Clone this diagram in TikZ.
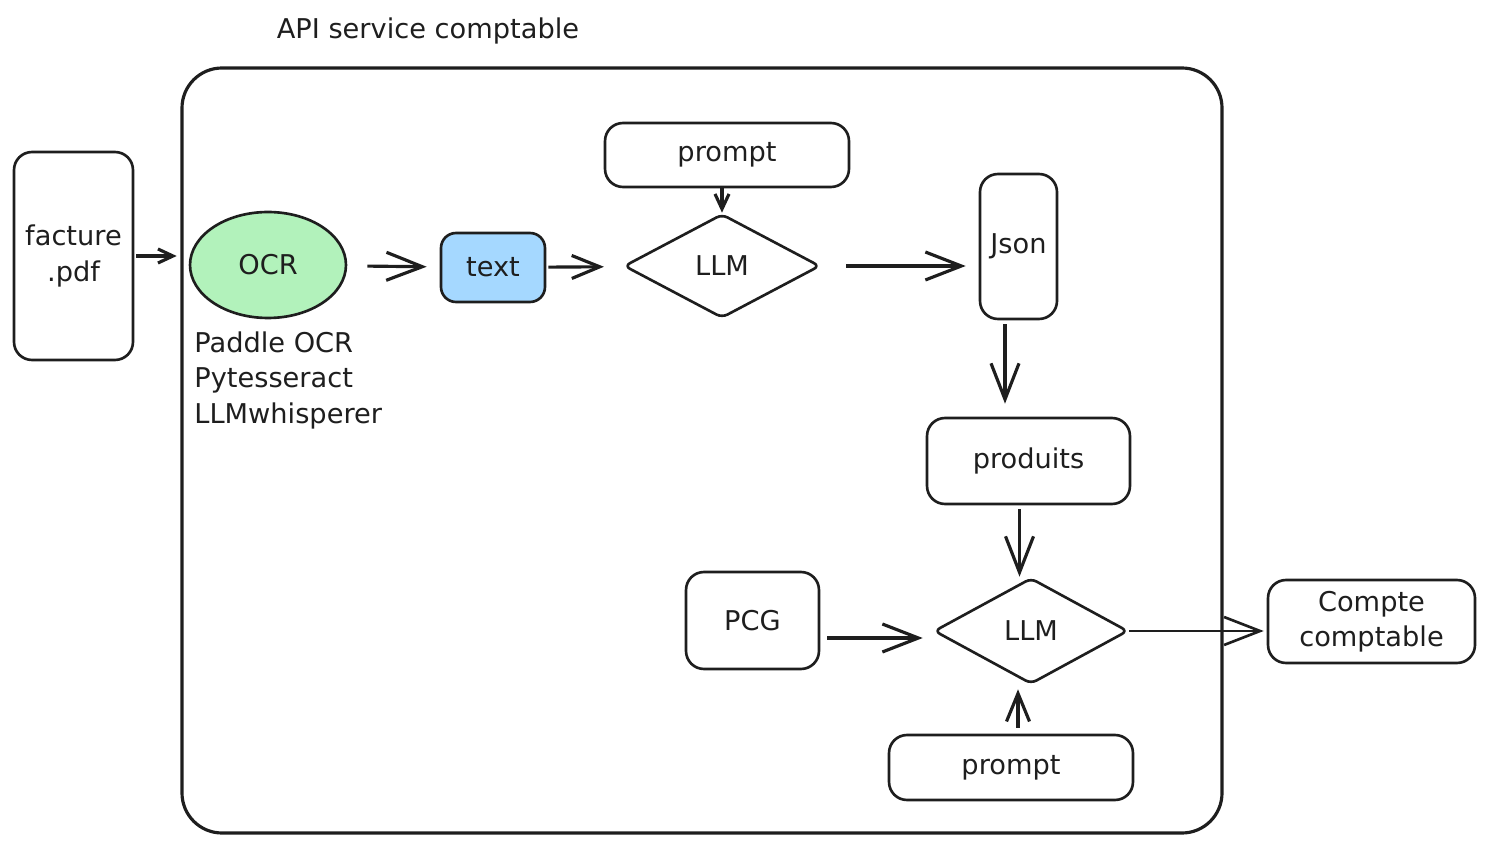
\documentclass[tikz,border=0pt]{standalone}
\usepackage{fontspec}
\setmainfont{DejaVu Sans}
\usetikzlibrary{shapes.geometric,arrows.meta,positioning}
\definecolor{ink}{HTML}{1E1E1E}
\definecolor{ocrgreen}{HTML}{B2F2BB}
\definecolor{textblue}{HTML}{A5D8FF}

\begin{document}
\begin{tikzpicture}[x=0.02cm,y=-0.02cm,
  font=\fontsize{15.5}{20}\selectfont,
  box/.style={draw=ink, line width=1.5pt, rounded corners=0.36cm, align=center, inner sep=0pt, text=ink},
  llm/.style={diamond, draw=ink, line width=1.5pt, rounded corners=0.12cm, inner sep=0pt, aspect=1.9, text=ink},
  lbl/.style={text=ink, inner sep=0pt},
  arr/.style={draw=ink, line width=1.8pt, -{Straight Barb[length=0.72cm,width=0.56cm]}},
  arrmid/.style={arr, -{Straight Barb[length=0.56cm,width=0.46cm]}},
  arrsmall/.style={arr, -{Straight Barb[length=0.3cm,width=0.28cm]}}]
\useasboundingbox (0,0) rectangle (1490,847);

% service
\draw[draw=ink, line width=1.8pt, rounded corners=0.8cm] (182,68) rectangle (1222,833);
\node[lbl] (title) at (428,31) {API service comptable};

\node[box, minimum width=2.38cm, minimum height=4.16cm] (facture) at (73.5,256) {facture\\.pdf};
\node[ellipse, draw=ink, fill=ocrgreen, line width=1.5pt, inner sep=0pt, text=ink,
      minimum width=3.12cm, minimum height=2.12cm] (ocr) at (268,265) {OCR};
\node[lbl, anchor=north west, align=left, font=\fontsize{15.5}{20.4}\selectfont] (tools) at (194,331) {Paddle OCR\\Pytesseract\\LLMwhisperer};
\node[box, fill=textblue, rounded corners=0.3cm, minimum width=2.08cm, minimum height=1.38cm] (txt) at (493,267.5) {text};

\node[box, minimum width=4.88cm, minimum height=1.28cm] (prompt1) at (727,155) {prompt};
\node[llm, minimum width=3.92cm, minimum height=2.08cm] (llm1) at (722,266) {LLM};
\node[box, minimum width=1.54cm, minimum height=2.9cm] (json) at (1018.5,246.5) {Json};
\node[box, minimum width=4.06cm, minimum height=1.72cm] (produits) at (1028.5,461) {produits};

\node[llm, minimum width=3.88cm, minimum height=2.12cm] (llm2) at (1031,631) {LLM};
\node[box, minimum width=2.66cm, minimum height=1.94cm] (pcg) at (752.5,620.5) {PCG};
\node[box, minimum width=4.88cm, minimum height=1.3cm] (prompt2) at (1011,767.5) {prompt};
\node[box, minimum width=4.14cm, minimum height=1.66cm] (compte) at (1371.5,621.5) {Compte\\comptable};

% flux
\draw[arrsmall, shorten <=0.04cm, shorten >=0.24cm] (facture.east) -- (facture.east -| ocr.west);
\draw[arr, shorten <=0.4cm, shorten >=0.26cm] (ocr) -- (txt);
\draw[arrmid, shorten <=0.04cm, shorten >=0.4cm] (txt) -- (llm1);
\draw[arrsmall] (prompt1.south -| llm1.north) -- (llm1.north);
\draw[arr, shorten <=0.5cm, shorten >=0.26cm] (llm1.east) -- (llm1.east -| json.west);
\draw[arr, shorten <=0.08cm, shorten >=0.26cm] ([xshift=-0.27cm]json.south) -- ([xshift=-0.27cm]json.south |- produits.north);
\draw[arr, shorten <=0.08cm] ([xshift=-0.18cm]produits.south) -- ([xshift=-0.18cm]produits.south |- llm2.north);
\draw[arr, shorten <=0.14cm, shorten >=0.2cm] ([yshift=-0.35cm]pcg.east) -- ([yshift=-0.35cm]pcg.east -| llm2.west);
\draw[arrmid, shorten <=0.12cm, shorten >=0.08cm] ([xshift=0.14cm]prompt2.north) -- ([xshift=0.14cm]prompt2.north |- llm2.south);
\draw[arr, line width=1.5pt, shorten >=0.06cm] (llm2.east) -- (llm2.east -| compte.west);
\end{tikzpicture}
\end{document}
